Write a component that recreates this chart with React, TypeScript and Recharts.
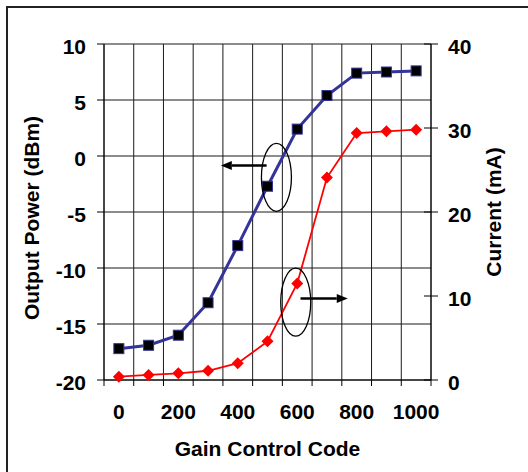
import {
  LineChart,
  Line,
  XAxis,
  YAxis,
  CartesianGrid,
  ReferenceDot,
  ReferenceLine,
  Label,
} from "recharts";

const FONT = "'Liberation Sans', Arial, sans-serif";

// gain control codes and the two measured series
const codes = [0, 100, 200, 300, 400, 500, 600, 700, 800, 900, 1000];
const outputPower = [-17.2, -16.9, -16.0, -13.1, -8.0, -2.7, 2.4, 5.4, 7.4, 7.5, 7.6];
const current = [0.4, 0.6, 0.8, 1.1, 2.0, 4.6, 11.5, 24.1, 29.4, 29.6, 29.8];

// axis ticks
const cellEdges = [-50, 50, 150, 250, 350, 450, 550, 650, 750, 850, 950, 1050];
const codeLabels = [0, 200, 400, 600, 800, 1000];
const powerTicks = [-20, -15, -10, -5, 0, 5, 10];
const currentTicks = [0, 10, 20, 30, 40];

// callouts, in data units
const powerCallout = { x: 530, y: -1.9, arrowFrom: 497, arrowTo: 343, arrowY: -0.84 };
const currentCallout = { x: 595, y: 9.26, arrowFrom: 611, arrowTo: 770, arrowY: 9.71 };

const data = codes.map((code, i) => ({
  code,
  power: outputPower[i],
  current: current[i],
}));

function SquareDot({ cx, cy }: { cx?: number; cy?: number }) {
  if (cx == null || cy == null) return null;
  return (
    <rect x={cx - 5} y={cy - 5} width={10} height={10} fill="#000" stroke="#333399" strokeWidth={1} />
  );
}

function DiamondDot({ cx, cy }: { cx?: number; cy?: number }) {
  if (cx == null || cy == null) return null;
  return (
    <polygon
      points={`${cx},${cy - 6} ${cx + 6},${cy} ${cx},${cy + 6} ${cx - 6},${cy}`}
      fill="#FF0000"
    />
  );
}

function LeftTick({ x, y, payload }: any) {
  return (
    <text x={x} y={y + 2} dy="0.36em" textAnchor="end" fontSize={21} fontWeight={700} fontFamily={FONT} fill="#000">
      {payload.value}
    </text>
  );
}

function RightTick({ x, y, payload }: any) {
  return (
    <g>
      <line x1={x - 7} x2={x + 7} y1={y} y2={y} stroke="#000" strokeWidth={1} />
      <text x={x + 17} y={y + 2} dy="0.36em" textAnchor="start" fontSize={21} fontWeight={700} fontFamily={FONT} fill="#000">
        {payload.value}
      </text>
    </g>
  );
}

function Arrow({ x1, y1, x2, y2 }: any) {
  if (x1 == null) return null;
  const dir = x2 > x1 ? 1 : -1;
  const head = 11;
  return (
    <g>
      <line x1={x1} y1={y1} x2={x2 - dir * head} y2={y2} stroke="#000" strokeWidth={2.5} />
      <polygon
        points={`${x2},${y2} ${x2 - dir * head},${y2 - 4.5} ${x2 - dir * head},${y2 + 4.5}`}
        fill="#000"
      />
    </g>
  );
}

function Ellipse({ cx, cy }: any) {
  if (cx == null) return null;
  return <ellipse cx={cx} cy={cy} rx={15} ry={34} fill="none" stroke="#000" strokeWidth={1.3} />;
}

export default function App() {
  return (
    <div style={{ position: "fixed", left: 0, top: 0, width: 528, height: 472, background: "#fff" }}>
      <div
        style={{
          position: "absolute",
          left: 6,
          top: 6,
          right: 0,
          bottom: 0,
          borderLeft: "2px solid #222",
          borderTop: "2px solid #222",
        }}
      />
      <div style={{ position: "absolute", left: 0, top: 0 }}>
        <LineChart width={528} height={472} data={data} margin={{ top: 44, right: 0, bottom: 0, left: 0 }}>
          <XAxis
            xAxisId="cells"
            type="number"
            dataKey="code"
            domain={[-50, 1050]}
            ticks={cellEdges}
            tickFormatter={() => ""}
            tickSize={6}
            height={7}
            stroke="#000"
            axisLine={{ stroke: "#000" }}
            tickLine={{ stroke: "#000" }}
          />
          <XAxis
            xAxisId="labels"
            type="number"
            dataKey="code"
            domain={[-50, 1050]}
            ticks={codeLabels}
            axisLine={false}
            tickLine={false}
            tickSize={0}
            tickMargin={17}
            height={85}
            interval={0}
            tick={{ fill: "#000", fontSize: 21, fontWeight: 700, fontFamily: FONT }}
          >
            <Label
              value="Gain Control Code"
              position="insideBottom"
              offset={16}
              fill="#000"
              fontSize={21}
              fontWeight={700}
              fontFamily={FONT}
            />
          </XAxis>
          <YAxis
            yAxisId="left"
            domain={[-20, 10]}
            ticks={powerTicks}
            width={104}
            tickSize={7}
            tickMargin={11}
            interval={0}
            axisLine={{ stroke: "#000" }}
            tickLine={{ stroke: "#000" }}
            tick={<LeftTick />}
          >
            <Label
              content={({ viewBox }: any) => {
                const cx = viewBox.x + 31;
                const cy = viewBox.y + viewBox.height / 2 + 6;
                return (
                  <text
                    x={cx}
                    y={cy}
                    transform={`rotate(-90, ${cx}, ${cy})`}
                    textAnchor="middle"
                    dy="0.36em"
                    fontSize={21}
                    fontWeight={700}
                    fontFamily={FONT}
                    fill="#000"
                  >
                    Output Power (dBm)
                  </text>
                );
              }}
            />
          </YAxis>
          <YAxis
            yAxisId="right"
            orientation="right"
            domain={[0, 40]}
            ticks={currentTicks}
            width={97}
            tickSize={0}
            tickMargin={0}
            interval={0}
            axisLine={{ stroke: "#000" }}
            tickLine={false}
            tick={<RightTick />}
          >
            <Label
              content={({ viewBox }: any) => {
                const cx = viewBox.x + 62;
                const cy = viewBox.y + viewBox.height / 2;
                return (
                  <text
                    x={cx}
                    y={cy}
                    transform={`rotate(-90, ${cx}, ${cy})`}
                    textAnchor="middle"
                    dy="0.36em"
                    fontSize={21}
                    fontWeight={700}
                    fontFamily={FONT}
                    fill="#000"
                  >
                    Current (mA)
                  </text>
                );
              }}
            />
          </YAxis>
          <CartesianGrid xAxisId="cells" yAxisId="left" stroke="#1a1a1a" strokeWidth={1} />
          <Line
            xAxisId="cells"
            yAxisId="right"
            type="linear"
            dataKey="current"
            stroke="#FF0000"
            strokeWidth={1.8}
            dot={<DiamondDot />}
            activeDot={false}
            isAnimationActive={false}
          />
          <Line
            xAxisId="cells"
            yAxisId="left"
            type="linear"
            dataKey="power"
            stroke="#333399"
            strokeWidth={3}
            dot={<SquareDot />}
            activeDot={false}
            isAnimationActive={false}
          />
          <ReferenceDot
            xAxisId="cells"
            yAxisId="left"
            x={powerCallout.x}
            y={powerCallout.y}
            r={0}
            shape={<Ellipse />}
          />
          <ReferenceLine
            xAxisId="cells"
            yAxisId="left"
            segment={[
              { x: powerCallout.arrowFrom, y: powerCallout.arrowY },
              { x: powerCallout.arrowTo, y: powerCallout.arrowY },
            ]}
            shape={<Arrow />}
          />
          <ReferenceDot
            xAxisId="cells"
            yAxisId="right"
            x={currentCallout.x}
            y={currentCallout.y}
            r={0}
            shape={<Ellipse />}
          />
          <ReferenceLine
            xAxisId="cells"
            yAxisId="right"
            segment={[
              { x: currentCallout.arrowFrom, y: currentCallout.arrowY },
              { x: currentCallout.arrowTo, y: currentCallout.arrowY },
            ]}
            shape={<Arrow />}
          />
        </LineChart>
      </div>
    </div>
  );
}
